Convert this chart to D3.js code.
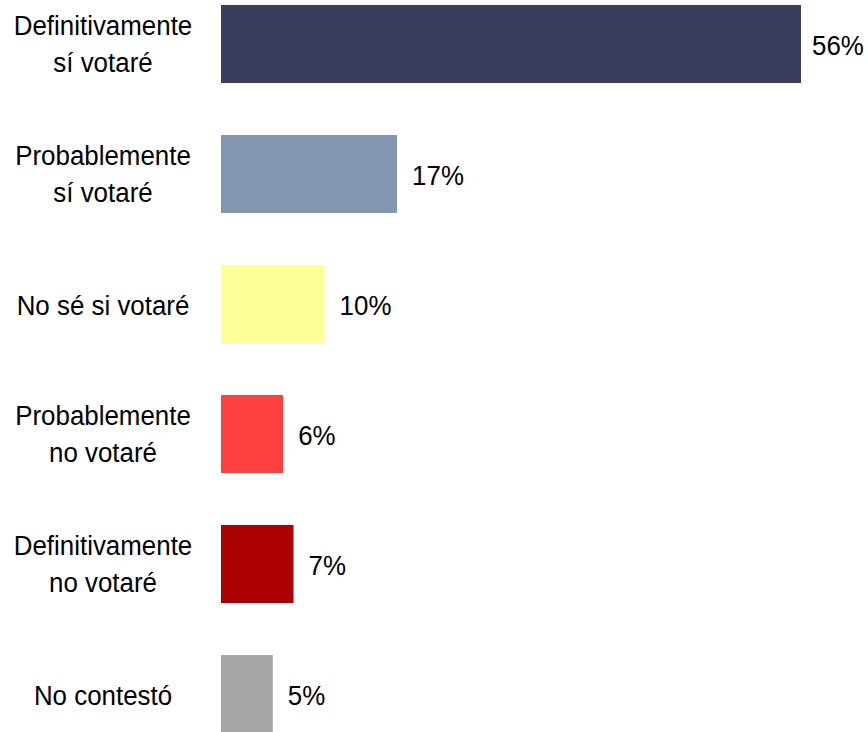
<!DOCTYPE html>
<html>
  <head>
    <meta charset="utf-8">
    <title>Intención de voto</title>
    <script src="https://d3js.org/d3.v7.min.js"></script>
    <style>
      body { margin: 0; background: #fff; }
      text { font-family: "Liberation Sans Narrow", "Arial Narrow", "Liberation Sans", Arial, sans-serif; font-size: 28px; fill: #000; }
    </style>
  </head>
  <body>
    <svg id="chart" width="868" height="732"></svg>
    <script>
      // data
      var categories = [
        ["Definitivamente", "sí votaré"],
        ["Probablemente", "sí votaré"],
        ["No sé si votaré"],
        ["Probablemente", "no votaré"],
        ["Definitivamente", "no votaré"],
        ["No contestó"]
      ];
      var values = [56, 17, 10, 6, 7, 5];
      var colours = ["#3a3d5c", "#8497b0", "#ffff99", "#ff4040", "#aa0000", "#a6a6a6"];

      var svg = d3.select("#chart");
      var keys = d3.range(values.length);
      var squeeze = 0.925; // fake a narrow face, none installed

      var x = d3.scaleLinear()
        .domain([0, 56])
        .range([221, 801]);
      var y = d3.scaleBand()
        .domain(keys)
        .range([-21, 759])
        .paddingInner(0.4)
        .paddingOuter(0.2);

      // bars
      svg.selectAll(".bar")
          .data(keys)
        .enter().append("rect")
          .attr("class", "bar")
          .attr("x", x(0))
          .attr("y", function(d) { return y(d); })
          .attr("width", function(d) { return x(values[d]) - x(0); })
          .attr("height", y.bandwidth())
          .attr("fill", function(d) { return colours[d]; });

      // category labels
      svg.selectAll(".label")
          .data(keys)
        .enter().append("text")
          .attr("class", "label")
          .attr("text-anchor", "middle")
          .attr("transform", function(d) {
            return "translate(103," + (y(d) + y.bandwidth() / 2 + 11) + ") scale(" + squeeze + ",1)";
          })
          .each(function(d) {
            var lines = categories[d];
            var t = d3.select(this);
            lines.forEach(function(line, i) {
              t.append("tspan")
                .attr("x", 0)
                .attr("dy", i === 0 ? (lines.length > 1 ? -20 : 0) : 37)
                .text(line);
            });
          });

      // value labels
      svg.selectAll(".value")
          .data(keys)
        .enter().append("text")
          .attr("class", "value")
          .attr("transform", function(d) {
            return "translate(" + Math.min(x(values[d]) + 15, 812) + "," + (y(d) + y.bandwidth() / 2 + 11) + ") scale(" + squeeze + ",1)";
          })
          .text(function(d) { return values[d] + "%"; });
    </script>
  </body>
</html>
